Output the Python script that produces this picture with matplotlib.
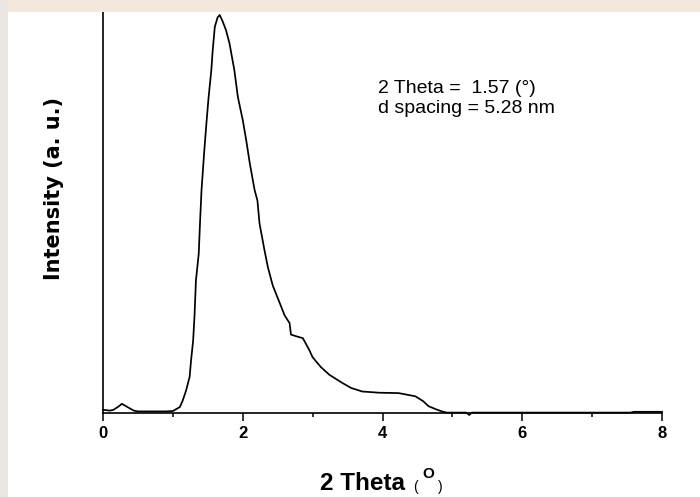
"""
Small-angle XRD pattern: intensity vs 2 theta, with peak annotation
"""

import matplotlib
matplotlib.use("Agg")
import matplotlib.pyplot as plt
from matplotlib.patches import Rectangle

# Data (intensity normalised to peak = 100)
two_theta = [0.0, 0.05, 0.10, 0.15, 0.22, 0.27, 0.35, 0.44, 0.5, 0.7, 0.9, 1.0,
             1.10, 1.14, 1.19, 1.24, 1.26, 1.29, 1.31, 1.33, 1.37, 1.39, 1.41,
             1.45, 1.48, 1.51, 1.55, 1.57, 1.60, 1.64, 1.67, 1.71, 1.76, 1.81,
             1.88, 1.93, 2.00, 2.05, 2.10, 2.17, 2.21, 2.24, 2.31, 2.36, 2.43,
             2.53, 2.60, 2.67, 2.69, 2.78, 2.86, 2.95, 3.00, 3.12, 3.24, 3.43,
             3.55, 3.71, 3.95, 4.23, 4.35, 4.47, 4.58, 4.66, 4.77, 4.85, 4.92,
             5.20, 5.24, 5.28, 6.0, 7.0, 7.55, 7.60, 8.0]
intensity = [0.8, 0.7, 0.6, 0.8, 1.6, 2.3, 1.5, 0.6, 0.4, 0.4, 0.4, 0.5,
             1.5, 3.1, 5.7, 9.1, 13.2, 18.2, 24.5, 33.3, 40.0, 48.4, 56.0,
             66.0, 72.8, 79.1, 86.1, 91.1, 97.0, 99.4, 100.0, 98.5, 96.2, 92.9,
             86.1, 79.4, 73.6, 68.5, 62.8, 56.0, 53.4, 47.6, 41.0, 36.6, 32.0,
             27.6, 24.5, 22.6, 19.7, 19.2, 18.8, 15.9, 14.0, 11.5, 9.6, 7.5,
             6.3, 5.4, 5.1, 5.0, 4.6, 4.2, 3.0, 1.7, 0.9, 0.4, 0.1,
             0.1, -0.5, 0.1, 0.1, 0.1, 0.1, 0.3, 0.3]

major_ticks = [0, 2, 4, 6, 8]
major_labels = ["0", "2", "4", "6", "8"]
minor_ticks = [1, 3, 5, 7]

W, H = 700, 497


def fx(px):
    return px / W


def fy(py):
    return 1 - py / H


fig = plt.figure(figsize=(7, 4.97), dpi=100)
fig.patch.set_facecolor("white")

# faint scan border at top / left of the original image
fig.patches.append(Rectangle((0, fy(12)), 1, 12 / H, transform=fig.transFigure,
                             facecolor="#f4e7dc", edgecolor="none", zorder=0))
fig.patches.append(Rectangle((0, 0), 8 / W, 1, transform=fig.transFigure,
                             facecolor="#ebe6e1", edgecolor="none", zorder=0))

ax = fig.add_axes([fx(103), fy(413), fx(662) - fx(103), fy(12) - fy(413)])
ax.plot(two_theta, intensity, color="black", lw=1.25, clip_on=False)

ax.set_xlim(0, 8)
ax.set_ylim(0, 100.75)
ax.set_facecolor("none")

for side in ["top", "right"]:
    ax.spines[side].set_visible(False)
for side in ["left", "bottom"]:
    ax.spines[side].set_linewidth(1.2)

ax.set_yticks([])
ax.set_xticks(major_ticks)
ax.set_xticklabels(major_labels, fontfamily="Liberation Sans",
                   fontweight="bold", fontsize=12)
ax.set_xticks(minor_ticks, minor=True)
ax.tick_params(axis="x", which="major", direction="out", length=5.5, width=1.1, pad=3.5)
ax.tick_params(axis="x", which="minor", direction="out", length=3, width=1.1)

# axis titles
fig.text(fx(54), fy(188), "Intensity (a. u.)", rotation=90, ha="center",
         va="center", fontsize=15, fontweight="bold", family="DejaVu Sans")
fig.text(fx(320), fy(490), "2 Theta", ha="left", va="baseline",
         fontsize=17.5, fontweight="bold", family="Liberation Sans")
fig.text(fx(413), fy(491), "(", ha="left", va="baseline", fontsize=10,
         family="Liberation Sans")
fig.text(fx(422), fy(478), "O", ha="left", va="baseline", fontsize=11,
         fontweight="bold", family="Liberation Sans")
fig.text(fx(438), fy(491), ")", ha="left", va="baseline", fontsize=10,
         family="Liberation Sans")

# peak annotation
fig.text(fx(378), fy(93), "2 Theta =  1.57 (°)", ha="left", va="baseline",
         fontsize=14, family="Liberation Sans")
fig.text(fx(378), fy(113), "d spacing = 5.28 nm", ha="left", va="baseline",
         fontsize=14, family="Liberation Sans")

fig.savefig("out.png", dpi=100)
